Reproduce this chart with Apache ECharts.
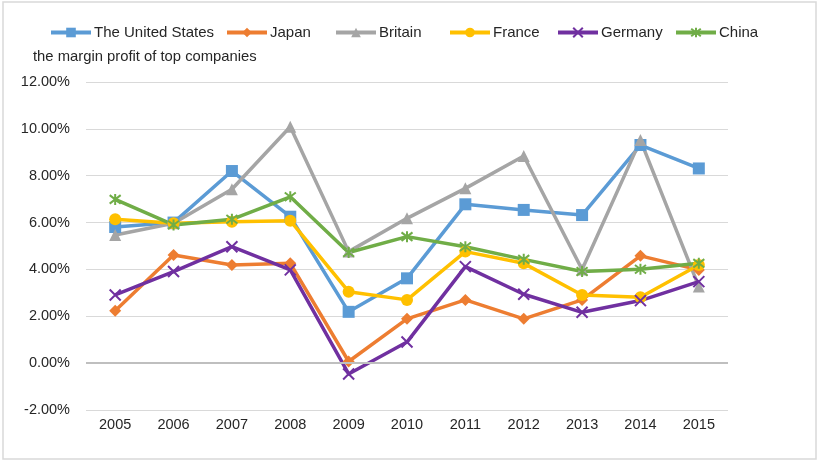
<!DOCTYPE html>
<html>
<head>
<meta charset="utf-8">
<script src="https://cdn.jsdelivr.net/npm/echarts@6/dist/echarts.min.js"></script>
<style>
  html, body { margin: 0; padding: 0; background: #fff; }
  #myChart { width: 823px; height: 464px; }
</style>
</head>
<body>
<div id="myChart"></div>
<script>
// chart data (percent)
const years = ['2005', '2006', '2007', '2008', '2009', '2010', '2011', '2012', '2013', '2014', '2015']
const unitedStates = [5.81, 6.0, 8.2, 6.25, 2.19, 3.62, 6.78, 6.54, 6.32, 9.31, 8.31]
const japan = [2.24, 4.62, 4.19, 4.26, 0.07, 1.89, 2.7, 1.89, 2.7, 4.58, 3.98]
const britain = [5.47, 5.97, 7.42, 10.09, 4.76, 6.18, 7.46, 8.84, 4.0, 9.52, 3.27]
const france = [6.14, 5.97, 6.04, 6.08, 3.05, 2.7, 4.76, 4.26, 2.91, 2.81, 4.19]
const germany = [2.91, 3.91, 4.97, 3.98, -0.46, 0.9, 4.12, 2.94, 2.17, 2.67, 3.48]
const china = [6.99, 5.9, 6.14, 7.1, 4.72, 5.4, 4.97, 4.43, 3.91, 4.01, 4.26]

const font = 'Liberation Sans, Arial, sans-serif'
const crossPath = 'path://M0,0L10,10M10,0L0,10'
const starPath = 'path://M0,0L10,10M10,0L0,10M5,-1.5L5,11.5'

function makeSeries (name, data, color, symbol, size, stroke) {
  let s = {
    name: name,
    type: 'line',
    data: data,
    symbol: symbol,
    symbolSize: size,
    showAllSymbol: true,
    lineStyle: { width: 3.5, color: color, join: 'round' },
    itemStyle: { color: color },
    emphasis: { disabled: true }
  }
  if (stroke) {
    s.itemStyle = { color: 'rgba(0,0,0,0)', borderColor: color, borderWidth: 2 }
  }
  return s
}

function makeLegend (name, left) {
  return {
    data: [name],
    left: left,
    top: 20,
    itemWidth: 40,
    itemHeight: 12,
    itemGap: 0,
    selectedMode: false,
    lineStyle: { width: 4 },
    textStyle: { fontFamily: font, fontSize: 15, color: '#262626', padding: [0, 0, 0, -2] }
  }
}

const options = {
  animation: false,
  backgroundColor: '#fff',
  title: {
    text: 'the margin profit of top companies',
    left: 28,
    top: 44,
    textStyle: { fontFamily: font, fontSize: 14.8, fontWeight: 'normal', color: '#262626' }
  },
  legend: [
    makeLegend('The United States', 44),
    makeLegend('Japan', 220),
    makeLegend('Britain', 329),
    makeLegend('France', 443),
    makeLegend('Germany', 551),
    makeLegend('China', 669)
  ],
  graphic: [{
    type: 'rect',
    shape: { x: 3, y: 2, width: 813, height: 457 },
    style: { fill: 'none', stroke: '#d9d9d9', lineWidth: 1.5 },
    z: -1
  }],
  grid: { left: 86, right: 95, top: 82, bottom: 54 },
  xAxis: {
    type: 'category',
    data: years,
    boundaryGap: true,
    axisLine: { show: false },
    axisTick: { show: false },
    axisLabel: { fontFamily: font, fontSize: 14.5, color: '#262626', margin: 7 }
  },
  yAxis: {
    type: 'value',
    min: -2,
    max: 12,
    interval: 2,
    axisLine: { show: false },
    axisTick: { show: false },
    axisLabel: {
      fontFamily: font,
      fontSize: 14.5,
      color: '#262626',
      margin: 16,
      formatter: function (v) { return v.toFixed(2) + '%' }
    },
    splitLine: { lineStyle: { color: '#d9d9d9', width: 1 } }
  },
  series: [
    makeSeries('The United States', unitedStates, '#5b9bd5', 'rect', 12),
    makeSeries('Japan', japan, '#ed7d31', 'diamond', 12),
    makeSeries('Britain', britain, '#a5a5a5', 'triangle', 12),
    makeSeries('France', france, '#ffc000', 'circle', 12),
    makeSeries('Germany', germany, '#7030a0', crossPath, 11, true),
    makeSeries('China', china, '#70ad47', starPath, 11, true)
  ]
}

// zero line
options.series[0].markLine = {
  silent: true,
  symbol: 'none',
  label: { show: false },
  lineStyle: { color: '#bfbfbf', width: 2, type: 'solid' },
  data: [{ yAxis: 0 }]
}

let myChart = echarts.init(document.getElementById('myChart'))
myChart.setOption(options)
</script>
</body>
</html>
